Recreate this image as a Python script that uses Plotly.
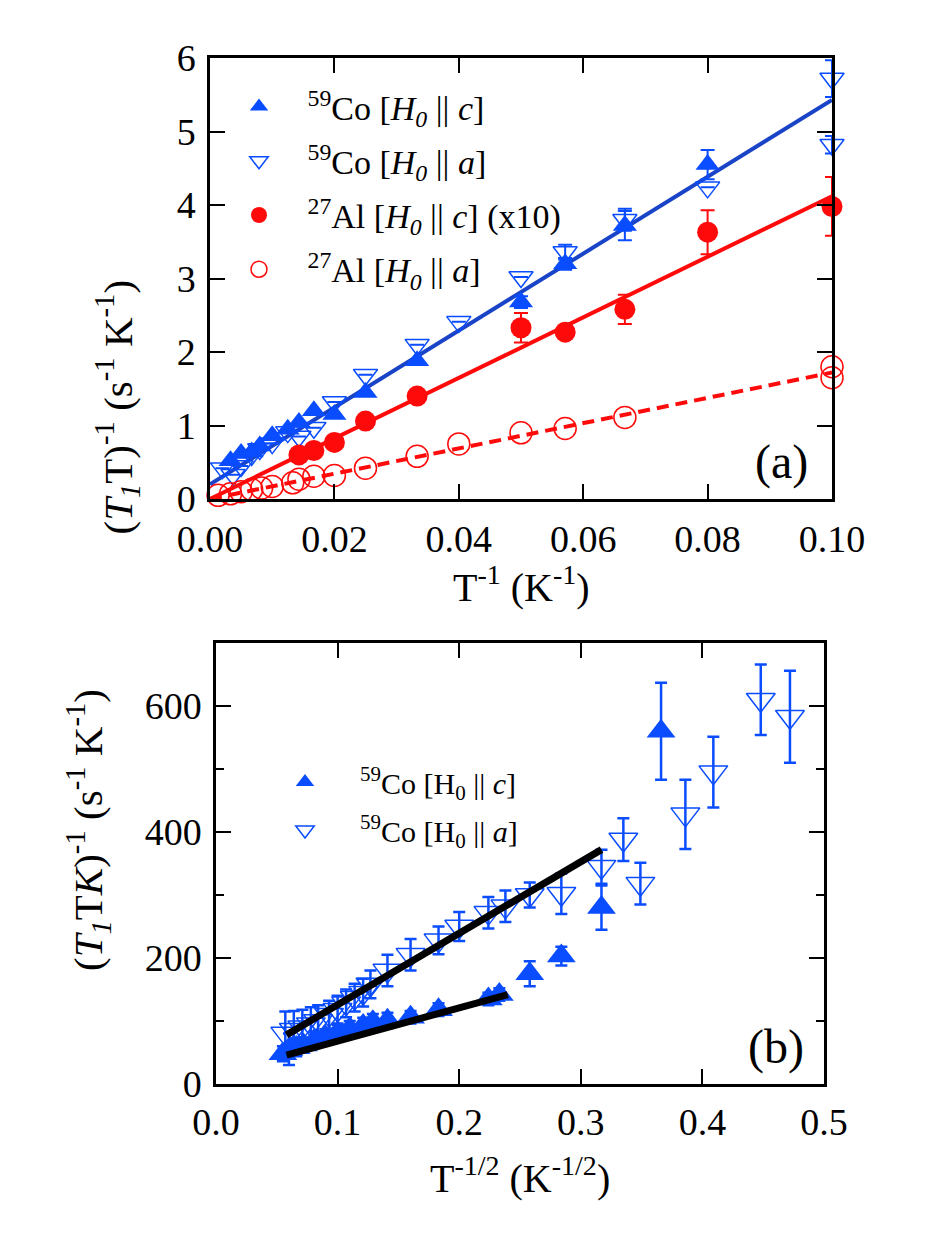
import plotly.graph_objects as go

# ---------------- Panel (a) data ----------------
co_c_x = [0.0033, 0.0050, 0.0067, 0.0080, 0.0100, 0.0125, 0.0143, 0.0167, 0.0200, 0.0250, 0.0333, 0.0500, 0.0571, 0.0667, 0.0800]
co_c_y = [0.52, 0.62, 0.64, 0.72, 0.86, 0.95, 1.04, 1.20, 1.15, 1.45, 1.88, 2.68, 3.20, 3.72, 4.55]
co_c_err = [0, 0, 0, 0, 0, 0, 0, 0, 0, 0, 0, 0.08, 0.08, 0.2, 0.2]

co_a_x = [0.0020, 0.0037, 0.0050, 0.0067, 0.0080, 0.0100, 0.0125, 0.0143, 0.0167, 0.0200, 0.0250, 0.0333, 0.0400, 0.0500, 0.0571, 0.0667, 0.0800, 0.1000, 0.1000]
co_a_y = [0.42, 0.33, 0.45, 0.60, 0.68, 0.76, 0.91, 0.85, 0.97, 1.32, 1.69, 2.10, 2.41, 3.02, 3.36, 3.80, 4.24, 5.72, 4.82]
co_a_err = [0, 0, 0, 0, 0, 0, 0, 0, 0, 0, 0, 0, 0, 0, 0.1, 0.15, 0, 0.25, 0.12]

al_c_x = [0.0143, 0.0167, 0.0200, 0.0250, 0.0333, 0.0500, 0.0571, 0.0667, 0.0800, 0.1000]
al_c_y = [0.60, 0.66, 0.77, 1.06, 1.40, 2.33, 2.27, 2.58, 3.63, 3.98]
al_c_err = [0, 0, 0, 0, 0, 0.2, 0.05, 0.2, 0.3, 0.4]

al_a_x = [0.0013, 0.0033, 0.0050, 0.0067, 0.0083, 0.0100, 0.0133, 0.0143, 0.0167, 0.0200, 0.0250, 0.0333, 0.0400, 0.0500, 0.0571, 0.0667, 0.1000, 0.1000]
al_a_y = [0.05, 0.07, 0.10, 0.13, 0.15, 0.17, 0.22, 0.27, 0.31, 0.32, 0.42, 0.58, 0.75, 0.90, 0.96, 1.11, 1.80, 1.65]

fit_a_x = [0.0, 0.1]
fit_co_y = [0.20, 5.43]
fit_alc_y = [0.0, 4.12]
fit_ala_y = [0.0, 1.72]

# ---------------- Panel (b) data ----------------
b_c_x = [0.055, 0.060, 0.066, 0.072, 0.081, 0.090, 0.100, 0.110, 0.121, 0.129, 0.141, 0.160, 0.183, 0.224, 0.233, 0.258, 0.284, 0.317, 0.366]
b_c_y = [48, 55, 58, 62, 70, 75, 82, 88, 93, 99, 101, 106, 118, 135, 142, 175, 203, 280, 560]
b_c_err = [12, 25, 14, 12, 13, 12, 12, 12, 12, 12, 12, 10, 10, 10, 10, 20, 15, 35, 77]

b_a_x = [0.057, 0.064, 0.071, 0.078, 0.084, 0.093, 0.100, 0.107, 0.114, 0.121, 0.127, 0.141, 0.160, 0.183, 0.200, 0.224, 0.238, 0.258, 0.284, 0.317, 0.335, 0.349, 0.386, 0.409, 0.448, 0.472]
b_a_y = [80, 86, 90, 95, 100, 110, 118, 128, 137, 145, 158, 180, 205, 228, 250, 272, 282, 300, 302, 345, 388, 318, 428, 495, 610, 583]
b_a_err = [35, 30, 28, 27, 25, 22, 22, 22, 22, 22, 22, 25, 25, 22, 23, 25, 25, 20, 32, 27, 34, 33, 55, 56, 56, 73]

fit_b_up_x = [0.058, 0.317]
fit_b_up_y = [78, 372]
fit_b_lo_x = [0.058, 0.240]
fit_b_lo_y = [46, 142]

BLUE = "#0a4cff"
BLUE_LINE = "#1a44c8"
RED = "#ff0a0a"
FONT = "Liberation Serif, Times New Roman, serif"

W, H = 942, 1253

fig = go.Figure()

def err(vals, w=7, c=BLUE, t=2):
    return dict(type="data", array=vals, visible=True, color=c, thickness=t, width=w)

# Panel (a) fit lines
fig.add_trace(go.Scatter(x=fit_a_x, y=fit_co_y, mode="lines", line=dict(color=BLUE_LINE, width=4),
                         showlegend=False, xaxis="x", yaxis="y"))
fig.add_trace(go.Scatter(x=fit_a_x, y=fit_alc_y, mode="lines", line=dict(color=RED, width=4),
                         showlegend=False, xaxis="x", yaxis="y"))
fig.add_trace(go.Scatter(x=fit_a_x, y=fit_ala_y, mode="lines", line=dict(color=RED, width=4, dash="12px,7px"),
                         showlegend=False, xaxis="x", yaxis="y"))

# Panel (a) markers
fig.add_trace(go.Scatter(x=co_c_x, y=co_c_y, mode="markers", error_y=err(co_c_err),
                         marker=dict(symbol="triangle-up", size=21, color=BLUE, line=dict(width=0)),
                         name="&nbsp;<sup>59</sup>Co [<i>H<sub>0</sub></i> || <i>c</i>]",
                         legendgroup="a1", cliponaxis=False, xaxis="x", yaxis="y"))
fig.add_trace(go.Scatter(x=co_a_x, y=co_a_y, mode="markers", error_y=err(co_a_err),
                         marker=dict(symbol="triangle-down-open", size=21, color=BLUE, line=dict(width=1.5)),
                         name="&nbsp;<sup>59</sup>Co [<i>H<sub>0</sub></i> || <i>a</i>]",
                         legendgroup="a2", cliponaxis=False, xaxis="x", yaxis="y"))
fig.add_trace(go.Scatter(x=al_c_x, y=al_c_y, mode="markers", error_y=err(al_c_err, c=RED),
                         marker=dict(symbol="circle", size=21, color=RED, line=dict(width=0)),
                         name="&nbsp;<sup>27</sup>Al [<i>H<sub>0</sub></i> || <i>c</i>] (x10)",
                         legendgroup="a3", cliponaxis=False, xaxis="x", yaxis="y"))
fig.add_trace(go.Scatter(x=al_a_x, y=al_a_y, mode="markers",
                         marker=dict(symbol="circle-open", size=22, color=RED, line=dict(width=1.5)),
                         name="&nbsp;<sup>27</sup>Al [<i>H<sub>0</sub></i> || <i>a</i>]",
                         legendgroup="a4", cliponaxis=False, xaxis="x", yaxis="y"))

# Panel (b) markers
fig.add_trace(go.Scatter(x=b_a_x, y=b_a_y, mode="markers", error_y=err(b_a_err, w=6, t=2.5),
                         marker=dict(symbol="triangle-down-open", size=25, color=BLUE, line=dict(width=1.5)),
                         name="&nbsp;&nbsp;<sup>59</sup>Co [H<sub>0</sub> || <i>a</i>]",
                         legend="legend2", legendrank=2, legendgroup="b2", cliponaxis=False, xaxis="x2", yaxis="y2"))
fig.add_trace(go.Scatter(x=b_c_x, y=b_c_y, mode="markers", error_y=err(b_c_err, w=6, t=2.5),
                         marker=dict(symbol="triangle-up", size=25, color=BLUE, line=dict(width=0)),
                         name="&nbsp;&nbsp;<sup>59</sup>Co [H<sub>0</sub> || <i>c</i>]",
                         legend="legend2", legendrank=1, legendgroup="b1", cliponaxis=False, xaxis="x2", yaxis="y2"))
# Panel (b) fit lines
fig.add_trace(go.Scatter(x=fit_b_up_x, y=fit_b_up_y, mode="lines", line=dict(color="black", width=7),
                         showlegend=False, xaxis="x2", yaxis="y2"))
fig.add_trace(go.Scatter(x=fit_b_lo_x, y=fit_b_lo_y, mode="lines", line=dict(color="black", width=7),
                         showlegend=False, xaxis="x2", yaxis="y2"))

axis_common = dict(showline=True, linewidth=2.5, linecolor="black", mirror="ticks",
                   ticks="inside", ticklen=15, tickwidth=2, tickcolor="black",
                   showgrid=False, zeroline=False, automargin=False,
                   tickfont=dict(family=FONT, size=38, color="black"))

fig.update_layout(
    width=W, height=H,
    margin=dict(l=0, r=0, t=0, b=0, pad=0),
    paper_bgcolor="white", plot_bgcolor="white",
    font=dict(family=FONT, color="black"),
    xaxis=dict(domain=[210 / W, 832 / W], range=[0, 0.1], tickvals=[0, 0.02, 0.04, 0.06, 0.08, 0.10],
               tickformat=".2f", anchor="y", ticklabelstandoff=5, **axis_common),
    yaxis=dict(domain=[1 - 499 / H, 1 - 58 / H], range=[0, 6], dtick=1, anchor="x",
               ticklabelstandoff=4, **axis_common),
    xaxis2=dict(domain=[216 / W, 824 / W], range=[0, 0.5], dtick=0.1, tickformat=".1f", anchor="y2",
                ticklabelstandoff=3, **axis_common),
    yaxis2=dict(domain=[1 - 1084 / H, 1 - 643 / H], range=[0, 700], tickvals=[0, 200, 400, 600], anchor="x2",
                ticklabelstandoff=4,
                minor=dict(dtick=100, ticklen=8, tickwidth=2, tickcolor="black", ticks="inside"),
                **axis_common),
    legend=dict(x=219 / W, y=1 - 78 / H, xanchor="left", yanchor="top",
                bgcolor="rgba(0,0,0,0)", borderwidth=0, tracegroupgap=7, itemwidth=70,
                font=dict(family=FONT, size=34, color="black")),
    legend2=dict(x=265 / W, y=1 - 756 / H, xanchor="left", yanchor="top",
                 bgcolor="rgba(0,0,0,0)", borderwidth=0, tracegroupgap=6, itemwidth=70,
                 font=dict(family=FONT, size=30, color="black")),
    annotations=[
        dict(text="(<i>T<sub>1</sub></i>T)<sup>-1</sup> (s<sup>-1</sup> K<sup>-1</sup>)", textangle=-90,
             x=87 / W, y=1 - 278 / H, xref="paper", yref="paper", showarrow=False,
             font=dict(family=FONT, size=41, color="black")),
        dict(text="T<sup>-1</sup> (K<sup>-1</sup>)",
             x=521 / W, y=1 - 585 / H, xref="paper", yref="paper", showarrow=False,
             font=dict(family=FONT, size=40, color="black")),
        dict(text="(<i>T<sub>1</sub></i>T<i>K</i>)<sup>-1</sup> (s<sup>-1</sup> K<sup>-1</sup>)", textangle=-90,
             x=57 / W, y=1 - 830 / H, xref="paper", yref="paper", showarrow=False,
             font=dict(family=FONT, size=41, color="black")),
        dict(text="T<sup>-1/2</sup> (K<sup>-1/2</sup>)",
             x=520 / W, y=1 - 1203 / H, xref="paper", yref="paper", showarrow=False,
             font=dict(family=FONT, size=40, color="black")),
        dict(text="(a)", x=810 / W, y=1 - 462 / H, xref="paper", yref="paper", showarrow=False,
             xanchor="right", yanchor="middle",
             font=dict(family=FONT, size=48, color="black")),
        dict(text="(b)", x=806 / W, y=1 - 1047 / H, xref="paper", yref="paper", showarrow=False,
             xanchor="right", yanchor="middle",
             font=dict(family=FONT, size=48, color="black")),
    ],
)

fig.write_html("out.html")
